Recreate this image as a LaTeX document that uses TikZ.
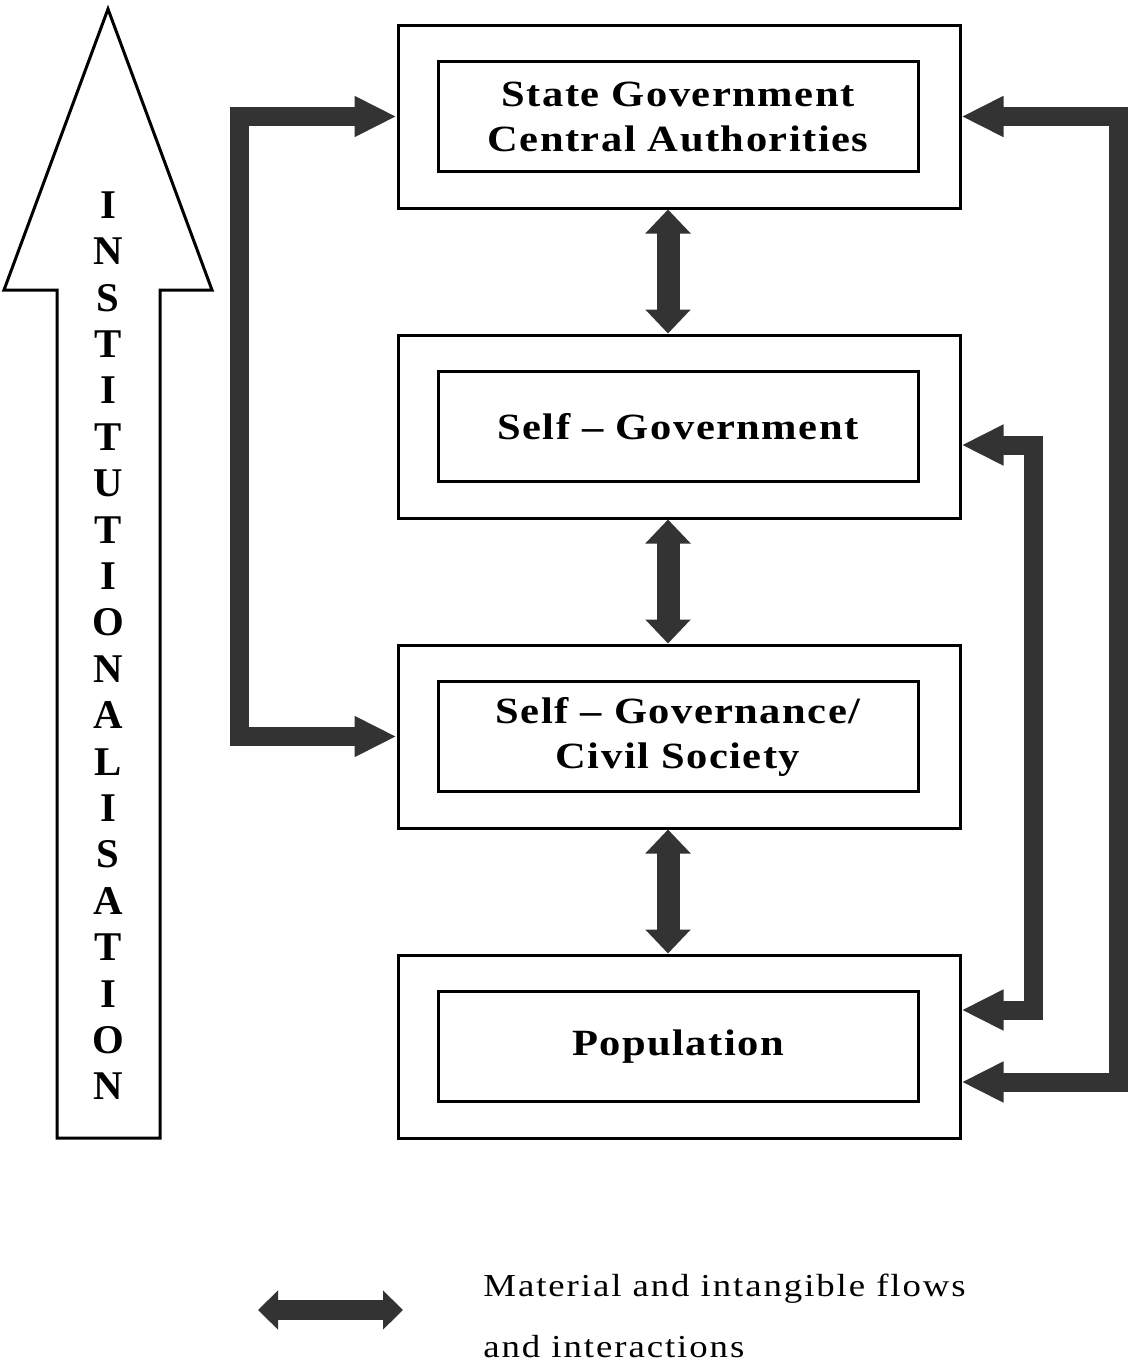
\documentclass[tikz,border=0pt]{standalone}
\usepackage{fontspec}
\setmainfont{Liberation Serif}
\newfontfamily\boxfont[FakeStretch=1.15,LetterSpace=4]{Liberation Serif}
\newfontfamily\legendfont[FakeStretch=1.15,LetterSpace=6]{Liberation Serif}
\usetikzlibrary{arrows.meta,positioning,calc}
\definecolor{flowgray}{HTML}{333333}
\tikzset{
  outerbox/.style={draw,line width=1.5pt,minimum width=281pt,minimum height=91.5pt},
  innerbox/.style={draw,line width=1.5pt,minimum width=240pt,minimum height=55pt,align=center,
    font=\boxfont\bfseries\fontsize{18.5}{22.5}\selectfont},
  flow/.style={draw=flowgray,line width=9.5pt,line join=miter,>={Triangle[length=21pt,width=19pt]},<->},
  link/.style={flow,line width=11.5pt,>={Triangle[length=12pt,width=22pt]}},
  letter/.style={font=\bfseries\fontsize{20.4}{22}\selectfont,inner sep=0pt},
  legendtext/.style={font=\legendfont\fontsize{16}{20}\selectfont,inner sep=0pt,anchor=base west}
}
\begin{document}
\begin{tikzpicture}[x=0.5pt,y=-0.5pt]
	\useasboundingbox (0,0) rectangle (1128,1365);
	% institutionalisation arrow
	\draw[line width=1.5pt,line join=miter,fill=white] (108,9) -- (212,290) -- (160,290) -- (160,1138) -- (57,1138) -- (57,290) -- (4,290) -- cycle;
	\foreach \ch [count=\i] in {I,N,S,T,I,T,U,T,I,O,N,A,L,I,S,A,T,I,O,N}
		\node[letter] (l\i) at (108,{205+46.4*(\i-1)}) {\ch};
	% levels
	\node[outerbox] (state) at (679,116.5) {};
	\node[innerbox] (stateTxt) at (678,116.5) {State Government\\Central Authorities};
	\node[outerbox] (selfgov) at (679,426.5) {};
	\node[innerbox] (selfgovTxt) at (678,426.5) {Self – Government};
	\node[outerbox] (civil) at (679,736.5) {};
	\node[innerbox] (civilTxt) at (678,736.5) {Self – Governance/\\Civil Society};
	\node[outerbox] (pop) at (679,1046.5) {};
	\node[innerbox] (popTxt) at (678,1046.5) {Population};
	% flows between levels
	\draw[link] ([xshift=-5.5pt]state.south) -- ([xshift=-5.5pt]selfgov.north);
	\draw[link] ([xshift=-5.5pt]selfgov.south) -- ([xshift=-5.5pt]civil.north);
	\draw[link] ([xshift=-5.5pt]civil.south) -- ([xshift=-5.5pt]pop.north);
	\draw[flow] (state.west) -- ++(-157,0) |- (civil.west);
	\draw[flow] (state.east) -- ++(157,0) |- ([yshift=-17.75pt]pop.east);
	\draw[flow] ([yshift=-9.25pt]selfgov.east) -- ++(72,0) |- ([yshift=18.25pt]pop.east);
	% legend
	\coordinate (legA) at (258,1310);
	\coordinate (legB) at (403,1310);
	\draw[flow,line width=10pt,>={Triangle[length=10pt,width=19pt]}] (legA) -- (legB);
	\node[legendtext] (legTop) at (483,1296) {Material and intangible flows};
	\node[legendtext] (legBot) at (483,1357) {and interactions};
\end{tikzpicture}
\end{document}
